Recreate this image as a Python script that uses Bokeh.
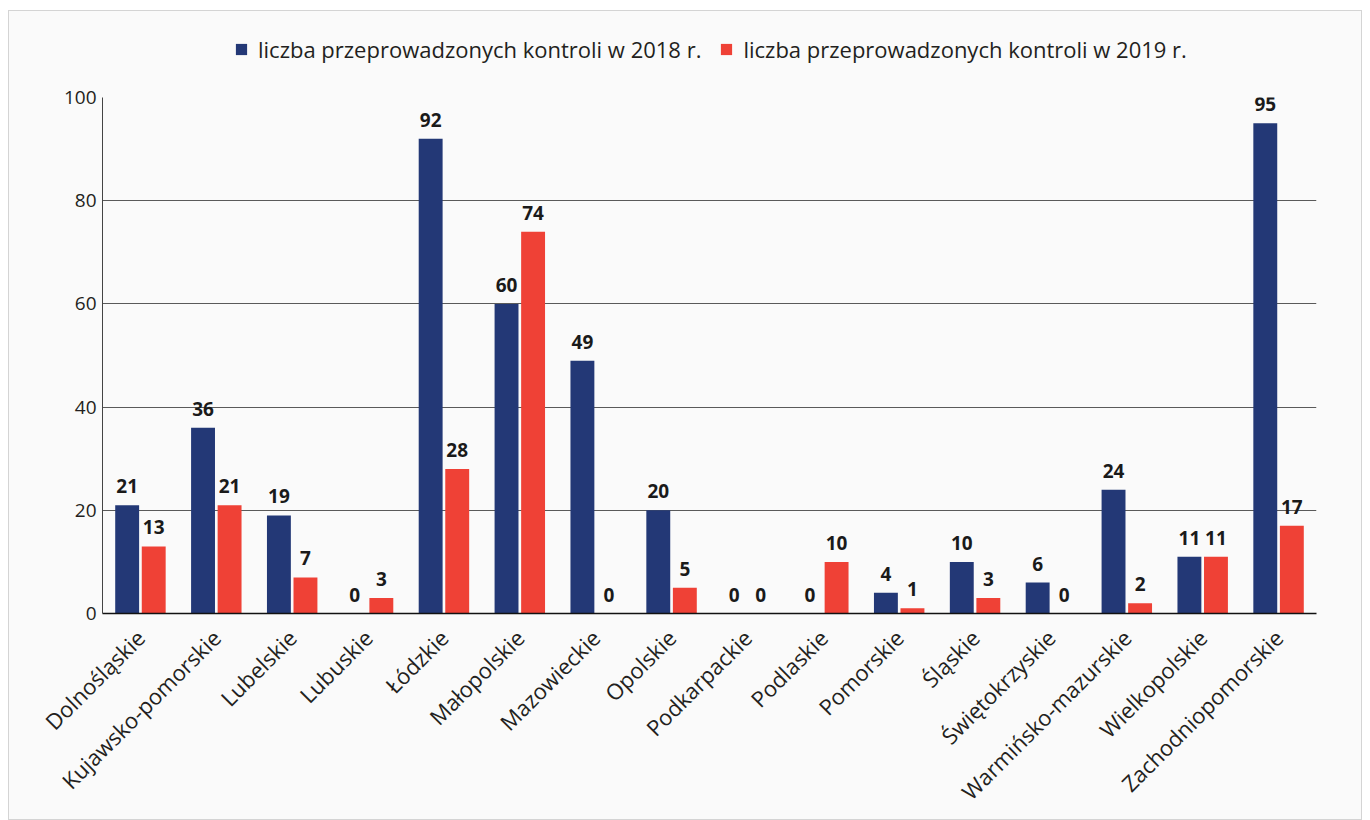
import math
from bokeh.plotting import figure
from bokeh.layouts import column
from bokeh.models import ColumnDataSource, FactorRange, Range1d, Legend, LegendItem, FixedTicker
from bokeh.transform import dodge
from bokeh.core.properties import value
from bokeh.embed import file_html
from bokeh.resources import INLINE

regions = ["Dolnośląskie", "Kujawsko-pomorskie", "Lubelskie", "Lubuskie", "Łódzkie",
           "Małopolskie", "Mazowieckie", "Opolskie", "Podkarpackie", "Podlaskie",
           "Pomorskie", "Śląskie", "Świętokrzyskie", "Warmińsko-mazurskie",
           "Wielkopolskie", "Zachodniopomorskie"]
v2018 = [21, 36, 19, 0, 92, 60, 49, 20, 0, 0, 4, 10, 6, 24, 11, 95]
v2019 = [13, 21, 7, 3, 28, 74, 0, 5, 0, 10, 1, 3, 0, 2, 11, 17]
series_names = ["liczba przeprowadzonych kontroli w 2018 r.",
                "liczba przeprowadzonych kontroli w 2019 r."]
y_ticks = [0, 20, 40, 60, 80, 100]

BLUE = "#233876"
RED = "#ef4136"
FONT = "Open Sans"
BG = "#fafafa"
TXT = "#231f20"

src = ColumnDataSource(dict(
    region=regions, a=v2018, b=v2019,
    la=[str(v) for v in v2018], lb=[str(v) for v in v2019],
))

# ---- legend strip on top ----
lf = figure(width=1352, height=72, output_backend="svg", toolbar_location=None,
            x_range=Range1d(0, 1), y_range=Range1d(0, 1),
            min_border=0, min_border_left=0, min_border_right=0,
            min_border_top=0, min_border_bottom=0)
lf.axis.visible = False
lf.grid.visible = False
lf.outline_line_color = None
lf.background_fill_color = BG
lf.border_fill_color = BG
nan_row = dict(x=[float("nan")], top=[float("nan")])
lr1 = lf.vbar(x="x", top="top", width=0.1, source=ColumnDataSource(nan_row),
              fill_color=BLUE, line_color=None)
lr2 = lf.vbar(x="x", top="top", width=0.1, source=ColumnDataSource(dict(nan_row)),
              fill_color=RED, line_color=None)
legend = Legend(items=[LegendItem(label=series_names[0], renderers=[lr1]),
                       LegendItem(label=series_names[1], renderers=[lr2])],
                orientation="horizontal", location=(132, 19),
                label_text_font=FONT, label_text_font_size="22px",
                label_text_color=TXT, glyph_width=14, glyph_height=14,
                spacing=18, label_standoff=10, padding=0, margin=0,
                background_fill_alpha=0, border_line_color=None)
lf.add_layout(legend, "center")

# ---- main chart ----
p = figure(x_range=FactorRange(*regions, range_padding=0.0), y_range=Range1d(0, 100),
           width=1352, height=736, output_backend="svg", toolbar_location=None,
           min_border_left=93, min_border_right=45, min_border_top=14, min_border_bottom=206)
p.background_fill_color = BG
p.border_fill_color = BG
p.outline_line_color = None

p.vbar(x=dodge("region", -0.175, range=p.x_range), top="a", width=0.315, source=src,
       fill_color=BLUE, line_color=None)
p.vbar(x=dodge("region", 0.175, range=p.x_range), top="b", width=0.315, source=src,
       fill_color=RED, line_color=None)

for col, lab, off in (("a", "la", -0.175), ("b", "lb", 0.175)):
    p.text(x=dodge("region", off, range=p.x_range), y=col, text=lab, source=src,
           text_align="center", text_baseline="alphabetic", y_offset=-19,
           text_font=value(FONT), text_font_style="bold", text_font_size="19px",
           text_color="#1a1a1a")

p.xgrid.grid_line_color = None
p.ygrid.grid_line_color = "#5a5a5a"
p.ygrid.grid_line_width = 1
p.yaxis.ticker = FixedTicker(ticks=y_ticks)
p.yaxis.major_tick_line_color = None
p.yaxis.minor_tick_line_color = None
p.yaxis.axis_line_color = "#444444"
p.yaxis.major_label_text_font = FONT
p.yaxis.major_label_text_font_size = "19px"
p.yaxis.major_label_text_color = TXT
p.yaxis.major_label_standoff = 0

p.xaxis.axis_line_color = "#111111"
p.xaxis.axis_line_width = 1.5
p.xaxis.major_tick_line_color = None
p.xaxis.major_label_orientation = math.pi / 4
p.xaxis.major_label_text_font = FONT
p.xaxis.major_label_text_font_size = "22px"
p.xaxis.major_label_text_color = TXT
p.xaxis.major_label_standoff = 14

layout = column(lf, p, spacing=0)
layout.margin = (10, 0, 0, 8)
layout.styles = {"border": "1px solid #d4d4d4", "background-color": BG}

open("out.html", "w").write(file_html(layout, INLINE))
